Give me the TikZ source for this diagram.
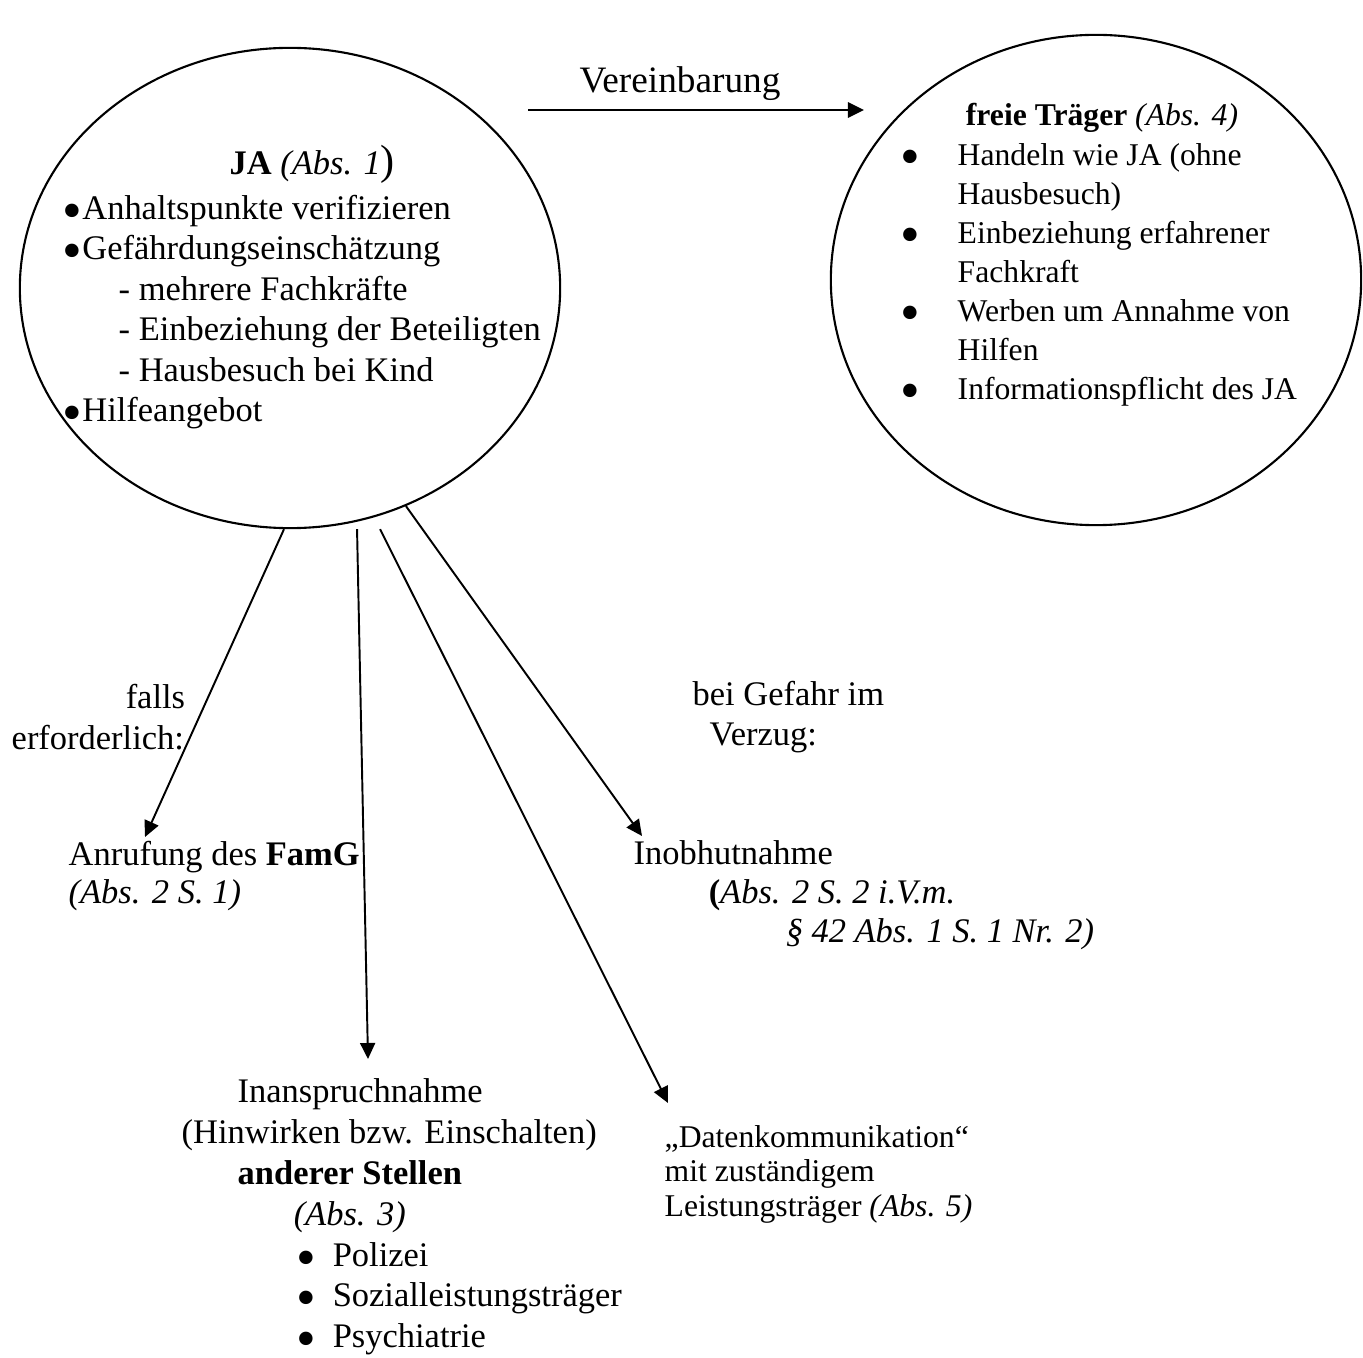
\documentclass[tikz,border=0pt]{standalone}
\usepackage{fontspec}
\setmainfont{Liberation Serif}
\usetikzlibrary{shapes.geometric,arrows.meta}
\newcommand{\punkt}{\smash{\raisebox{-0.1cm}{\fontsize{16}{16}\selectfont\textbullet}}}

\begin{document}
\begin{tikzpicture}[x=0.01cm,y=-0.01cm,
    blase/.style={draw,ellipse,line width=0.6pt,inner sep=0pt},
    txt/.style={inner sep=0pt,align=left,anchor=west,font=\fontsize{9.8}{#1}\selectfont},
    txt/.default=11.5,
    kltxt/.style={inner sep=0pt,align=left,anchor=west,font=\fontsize{9}{#1}\selectfont},
    kltxt/.default=10.8,
    pfeil/.style={-{Triangle[length=0.16cm,width=0.15cm]},line width=0.55pt}]
  \useasboundingbox (0,0) rectangle (1363,1358);

  % die beiden Kreise
  \node[blase,minimum width=5.4cm,minimum height=4.8cm] (ja) at (290,288) {};
  \node[blase,minimum width=5.3cm,minimum height=4.9cm] (frei) at (1096,280) {};

  \node[txt] (jatitel) at (229,164) {\textbf{JA} \textit{(Abs. 1}{\fontsize{12}{12}\selectfont)}};
  \node[txt=11.5] (jaliste) at (62,312) {\punkt Anhaltspunkte verifizieren\\
    \punkt Gefährdungseinschätzung\\
    \hspace*{0.56cm}- mehrere Fachkräfte\\
    \hspace*{0.56cm}- Einbeziehung der Beteiligten\\
    \hspace*{0.56cm}- Hausbesuch bei Kind\\
    \punkt Hilfeangebot};

  \node[kltxt,anchor=center] (freititel) at (1102,118) {\textbf{freie Träger} \textit{(Abs. 4)}};
  \node[kltxt=11.1] (freiliste) at (900,275) {\makebox[0.57cm][l]{\punkt}Handeln wie JA (ohne\\
    \hspace*{0.57cm}Hausbesuch)\\
    \makebox[0.57cm][l]{\punkt}Einbeziehung erfahrener\\
    \hspace*{0.57cm}Fachkraft\\
    \makebox[0.57cm][l]{\punkt}Werben um Annahme von\\
    \hspace*{0.57cm}Hilfen\\
    \makebox[0.57cm][l]{\punkt}Informationspflicht des JA};

  \node[txt,anchor=center,font=\fontsize{10.6}{12}\selectfont] (verein) at (680,84) {Vereinbarung};
  \coordinate (vlinks) at (528,110);
  \coordinate (vrechts) at (864,110);
  \draw[pfeil,line width=0.8pt] (vlinks) -- (vrechts);

  % Bedingungen
  \node[txt=11.7] (falls) at (11,717) {\hspace*{1.14cm}falls\\erforderlich:};
  \node[txt=11.4] (gefahr) at (692,717) {bei Gefahr im\\\hspace*{0.17cm}Verzug:};

  % Folgen
  \node[txt=10.9] (anruf) at (68,876) {Anrufung des \textbf{FamG}\\\textit{(Abs. 2 S. 1)}};
  \node[txt=11.1] (obhut) at (633,895) {Inobhutnahme\\
    \hspace*{0.75cm}\textbf{(}\textit{Abs. 2 S. 2 i.V.m.}\\
    \hspace*{1.52cm}\textit{§ 42 Abs. 1 S. 1 Nr. 2)}};
  \node[txt=11.6] (inanspruch) at (181,1217) {\hspace*{0.56cm}Inanspruchnahme\\
    (Hinwirken bzw. Einschalten)\\
    \hspace*{0.56cm}\textbf{anderer Stellen}\\
    \hspace*{1.12cm}\textit{(Abs. 3)}\\
    \hspace*{1.15cm}\makebox[0.36cm][l]{\punkt}Polizei\\
    \hspace*{1.15cm}\makebox[0.36cm][l]{\punkt}Sozialleistungsträger\\
    \hspace*{1.15cm}\makebox[0.36cm][l]{\punkt}Psychiatrie};
  \node[kltxt=9.8] (daten) at (664,1174) {„Datenkommunikation“\\
    mit zuständigem\\
    Leistungsträger \textit{(Abs. 5)}};

  \coordinate (anrufspitze) at (145,837);
  \coordinate (inspitze) at (368,1059);
  \coordinate (datenspitze) at (668,1103);
  \coordinate (obhutspitze) at (642,836);
  \draw[pfeil] ([xshift=-0.06cm]ja.south) -- (anrufspitze);
  \draw[pfeil] ([xshift=0.67cm]ja.south) -- (inspitze);
  \draw[pfeil] ([xshift=0.9cm]ja.south) -- (datenspitze);
  \draw[pfeil] (ja.-62) -- (obhutspitze);
\end{tikzpicture}
\end{document}
